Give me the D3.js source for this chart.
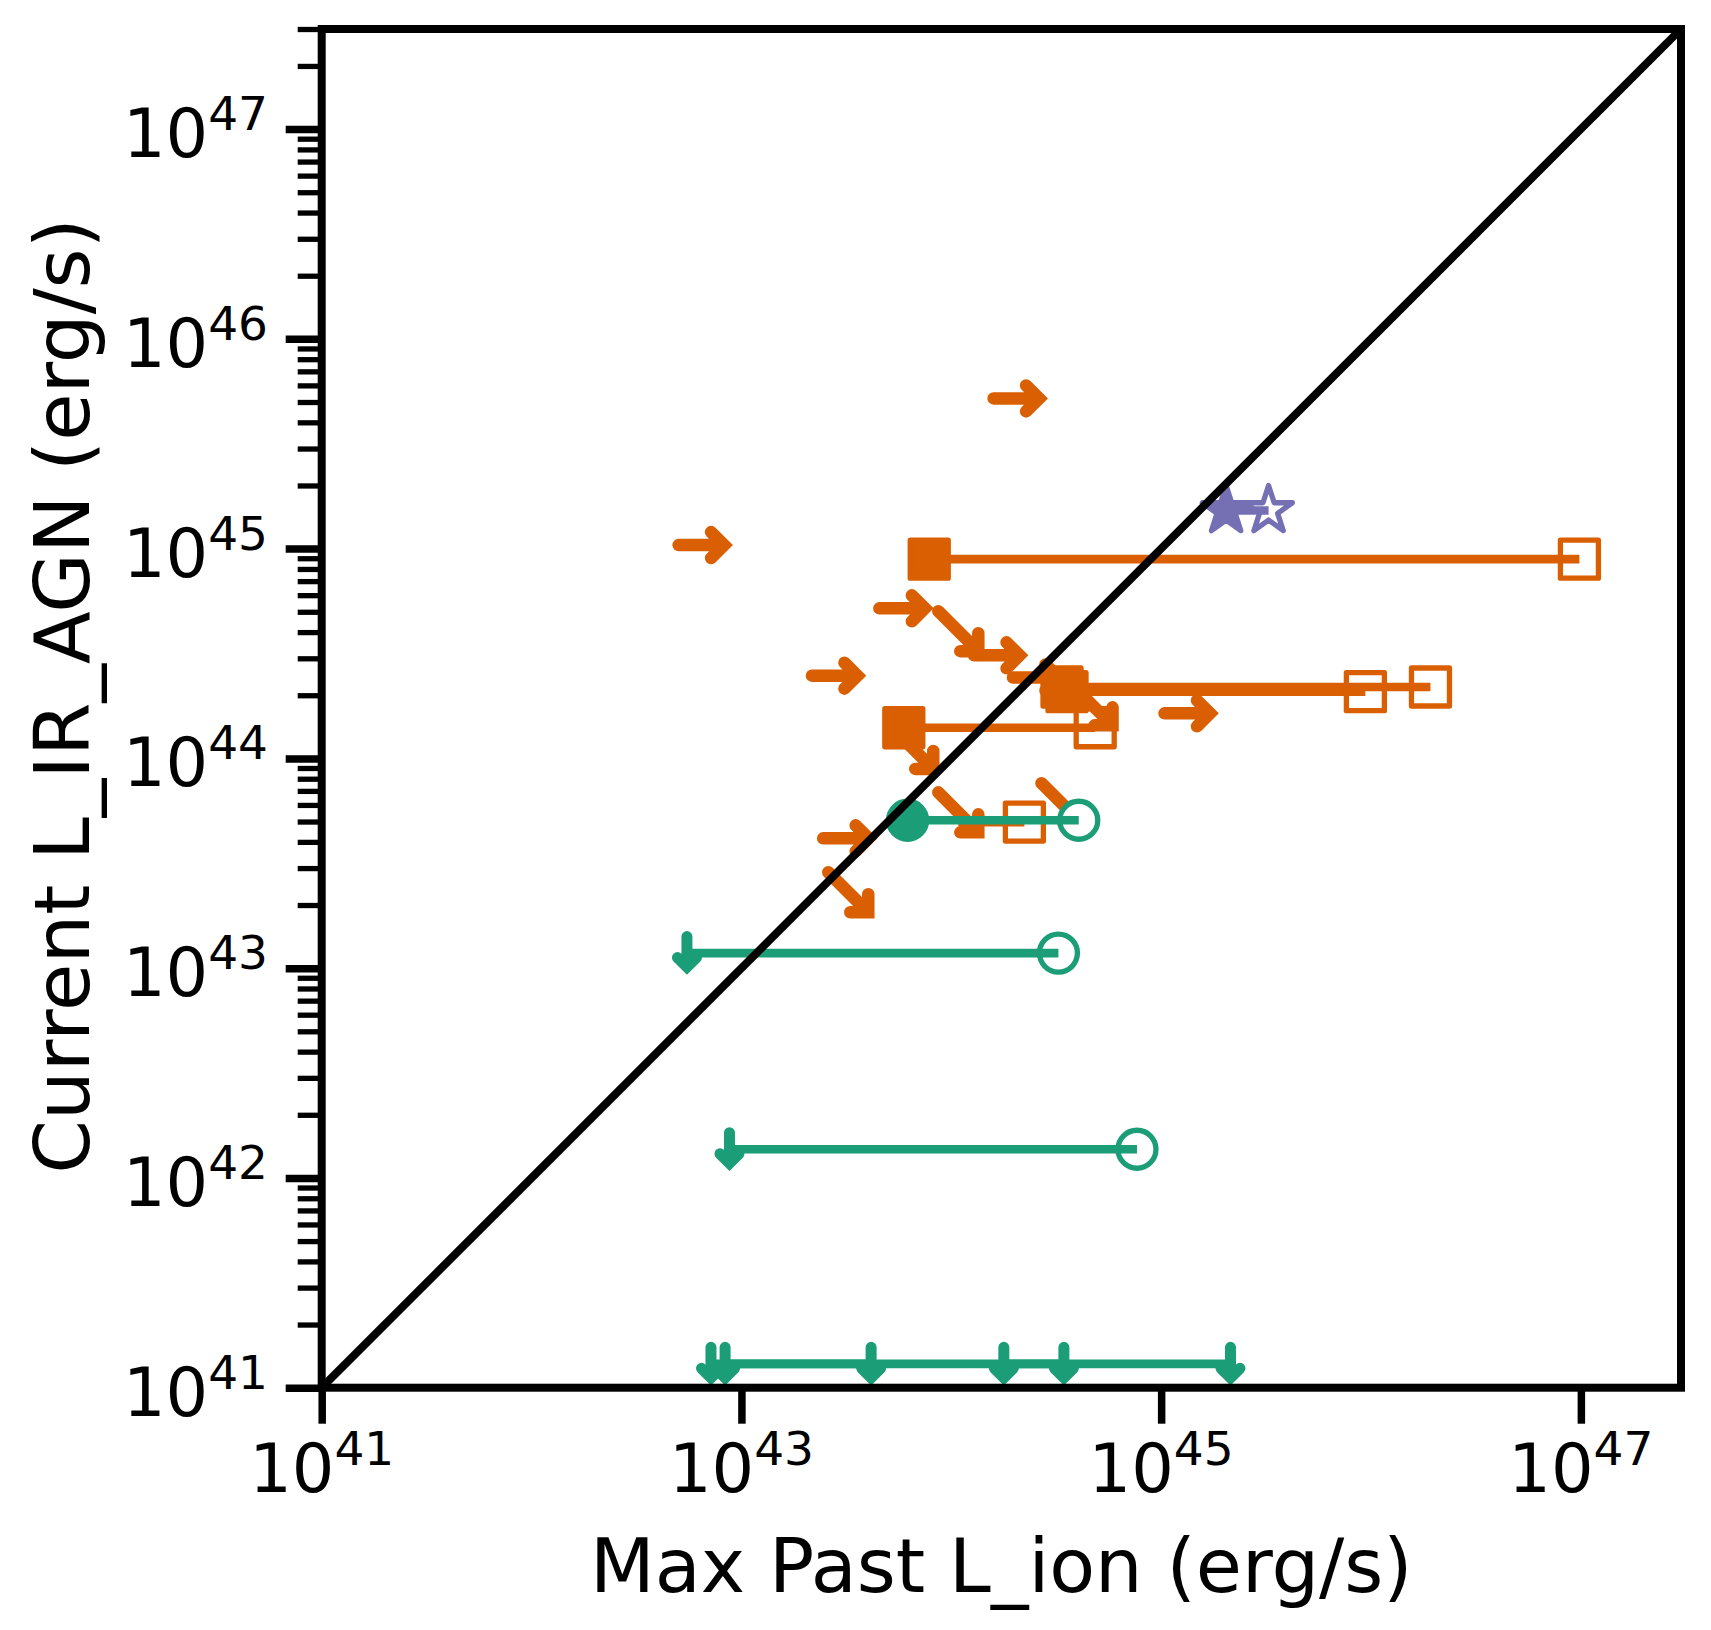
<!DOCTYPE html>
<html>
<head>
<meta charset="utf-8">
<script src="https://cdn.jsdelivr.net/npm/d3@7"></script>
<style>
  body { margin: 0; background: #ffffff; }
  text { font-family: "DejaVu Sans", sans-serif; fill: #000; }
</style>
</head>
<body>
<svg id="chart" width="1711" height="1630"></svg>
<script>
// ---------------- DATA ----------------
// Orange: filled square (current) joined to open square (max past)
const orangeCurrentX    = [7.85e43, 3.37e44, 3.56e44, 5.94e43, 1.08e44];
const orangePastX       = [9.84e46, 1.92e46, 9.4e45, 4.85e44, 2.23e44];
const orangeY           = [8.91e44, 2.19e44, 2.08e44, 1.40e44, 4.97e43];
const orangeCurrentKind = ["square", "square", "square", "square", "none"];

// Orange lower limits in x (right arrows)
const rightArrowX = [2.07e44, 6.53e42, 5.91e43, 1.67e44, 2.82e43, 2.56e44, 1.35e45, 3.19e43];
const rightArrowY = [5.2e45, 1.04e45, 5.19e44, 3.10e44, 2.48e44, 2.43e44, 1.64e44, 4.16e43];

// Orange lower limit in x + upper limit in y (down-right arrows)
const downRightX = [1.08e44, 6.59e43, 1.08e44, 4.71e44, 3.23e43, 3.35e44];
const downRightY = [4.04e44, 1.11e44, 5.53e43, 1.79e44, 2.30e43, 6.12e43];

// Purple stars: filled (current) -> open (max past)
const starCurrentX = [2.04e45];
const starPastX    = [3.25e45];
const starY        = [1.52e45];

// Green: current (filled circle or upper-limit arrow) -> max past (open circle or arrow)
const greenCurrentX    = [6.19e43, 5.5e42, 8.77e42, 7.16e42, 8.36e42, 1.78e44];
const greenPastX       = [4.05e44, 3.24e44, 7.67e44, 2.14e45, 4.15e43, 3.44e44];
const greenY           = [5.07e43, 1.18e43, 1.37e42, 1.3e41, 1.3e41, 1.3e41];
const greenCurrentKind = ["circle", "limit", "limit", "limit", "limit", "limit"];
const greenPastKind    = ["circle", "circle", "circle", "limit", "limit", "limit"];

// Axis ticks
const xTickExponents = [41, 43, 45, 47];
const yTickExponents = [41, 42, 43, 44, 45, 46, 47];
const axisDomain = [1e41, 3e47];

// ---------------- SETUP ----------------
const ORANGE = "#d95f02", GREEN = "#1b9e77", PURPLE = "#7570b3";
const svg = d3.select("#chart");
svg.append("rect").attr("width", 1711).attr("height", 1630).attr("fill", "#fff");

const L = 321.7, R = 1681, T = 29, B = 1387.7;
const x = d3.scaleLog().domain(axisDomain).range([L, R]);
const y = d3.scaleLog().domain(axisDomain).range([B, T]);

const plotG = svg.append("g");

// marker helpers
function sqMarker(g, cx, cy, filled, color) {
  const s = 38;
  g.append("rect")
    .attr("x", x(cx) - s / 2).attr("y", y(cy) - s / 2)
    .attr("width", s).attr("height", s)
    .attr("fill", filled ? color : "none")
    .attr("stroke", color).attr("stroke-width", 5.3)
    .attr("stroke-linejoin", "round");
}
function starPath(Rad) {
  const r = Rad * 0.381966;
  const pts = [];
  for (let i = 0; i < 10; i++) {
    const a = -Math.PI / 2 + i * Math.PI / 5;
    const rr = i % 2 ? r : Rad;
    pts.push([rr * Math.cos(a), rr * Math.sin(a)]);
  }
  return "M" + pts.map(p => p[0].toFixed(2) + "," + p[1].toFixed(2)).join("L") + "Z";
}
function glyph(g, cx, cy, d, color, sw) {
  g.append("path")
    .attr("transform", `translate(${x(cx)},${y(cy)})`)
    .attr("d", d)
    .attr("fill", "none").attr("stroke", color).attr("stroke-width", sw)
    .attr("stroke-linecap", "round").attr("stroke-linejoin", "miter")
    .attr("stroke-miterlimit", 4);
}
const RIGHT_ARROW = "M-24,0L21.5,0M8.5,-13L21.5,0L8.5,13";
const DOWNRIGHT_ARROW = "M-20,-20L20,20M20,2L20,20L2,20";
const DOWN_ARROW = "M0,-16.5L0,14M-9.5,4.5L0,14L9.5,4.5";

// ---- Orange ----
const og = plotG.append("g");
orangeY.forEach((yy, i) => {
  og.append("line")
    .attr("x1", x(orangeCurrentX[i])).attr("x2", x(orangePastX[i]))
    .attr("y1", y(yy)).attr("y2", y(yy))
    .attr("stroke", ORANGE).attr("stroke-width", 8.7);
});
orangeY.forEach((yy, i) => sqMarker(og, orangePastX[i], yy, false, ORANGE));
orangeY.forEach((yy, i) => {
  if (orangeCurrentKind[i] === "square") sqMarker(og, orangeCurrentX[i], yy, true, ORANGE);
});
rightArrowX.forEach((xx, i) => glyph(og, xx, rightArrowY[i], RIGHT_ARROW, ORANGE, 12.5));
downRightX.forEach((xx, i) => glyph(og, xx, downRightY[i], DOWNRIGHT_ARROW, ORANGE, 12.5));

// ---- Purple stars ----
const pg = plotG.append("g");
starY.forEach((yy, i) => {
  pg.append("line")
    .attr("x1", x(starCurrentX[i])).attr("x2", x(starPastX[i]))
    .attr("y1", y(yy)).attr("y2", y(yy))
    .attr("stroke", PURPLE).attr("stroke-width", 8.7);
  pg.append("path").attr("transform", `translate(${x(starPastX[i])},${y(yy)})`)
    .attr("d", starPath(25)).attr("fill", "none")
    .attr("stroke", PURPLE).attr("stroke-width", 5.3).attr("stroke-linejoin", "round");
  pg.append("path").attr("transform", `translate(${x(starCurrentX[i])},${y(yy)})`)
    .attr("d", starPath(25)).attr("fill", PURPLE)
    .attr("stroke", PURPLE).attr("stroke-width", 5.3).attr("stroke-linejoin", "round");
});

// ---- Green ----
const gg = plotG.append("g");
greenY.forEach((yy, i) => {
  if (greenPastKind[i] === "circle") {
    gg.append("circle").attr("cx", x(greenPastX[i])).attr("cy", y(yy)).attr("r", 19)
      .attr("fill", "#fff").attr("stroke", GREEN).attr("stroke-width", 5.3);
  }
});
greenY.forEach((yy, i) => {
  gg.append("line")
    .attr("x1", x(greenCurrentX[i])).attr("x2", x(greenPastX[i]))
    .attr("y1", y(yy)).attr("y2", y(yy))
    .attr("stroke", GREEN).attr("stroke-width", 8.7);
});
greenY.forEach((yy, i) => {
  if (greenCurrentKind[i] === "circle") {
    gg.append("circle").attr("cx", x(greenCurrentX[i])).attr("cy", y(yy)).attr("r", 19)
      .attr("fill", GREEN).attr("stroke", GREEN).attr("stroke-width", 5.3);
  } else {
    glyph(gg, greenCurrentX[i], yy, DOWN_ARROW, GREEN, 11);
  }
  if (greenPastKind[i] === "limit") glyph(gg, greenPastX[i], yy, DOWN_ARROW, GREEN, 11);
});

// ---- one-to-one line ----
plotG.append("line")
  .attr("x1", x(axisDomain[0])).attr("y1", y(axisDomain[0]))
  .attr("x2", x(axisDomain[1])).attr("y2", y(axisDomain[1]))
  .attr("stroke", "#000").attr("stroke-width", 8);

// ---------------- AXES ----------------
const xMajor = xTickExponents.map(e => Math.pow(10, e));
const yMajor = yTickExponents.map(e => Math.pow(10, e));
const yMinor = [];
for (let e = 41; e <= 47; e++) for (let k = 2; k <= 9; k++) {
  const v = k * Math.pow(10, e);
  if (v <= axisDomain[1] * 1.0001) yMinor.push(v);
}

const xAxis = svg.append("g").attr("transform", `translate(0,${B})`)
  .call(d3.axisBottom(x).tickValues(xMajor).tickSize(36).tickFormat(() => ""));
const yAxisMinor = svg.append("g").attr("transform", `translate(${L},0)`)
  .call(d3.axisLeft(y).tickValues(yMinor).tickSize(24).tickFormat(() => ""));
const yAxis = svg.append("g").attr("transform", `translate(${L},0)`)
  .call(d3.axisLeft(y).tickValues(yMajor).tickSize(36).tickFormat(() => ""));
[xAxis, yAxis, yAxisMinor].forEach(a => a.select(".domain").remove());
xAxis.selectAll(".tick line").attr("stroke", "#000").attr("stroke-width", 7.5);
yAxis.selectAll(".tick line").attr("stroke", "#000").attr("stroke-width", 7.5);
yAxisMinor.selectAll(".tick line").attr("stroke", "#000").attr("stroke-width", 5.3);

// spines
svg.append("rect").attr("x", L).attr("y", T).attr("width", R - L).attr("height", B - T)
  .attr("fill", "none").attr("stroke", "#000").attr("stroke-width", 8)
  .attr("stroke-linejoin", "miter");

// tick labels
xTickExponents.forEach(e => {
  const t = svg.append("text").attr("x", x(Math.pow(10, e))).attr("y", 1492)
    .attr("text-anchor", "middle").style("font-size", "67px");
  t.append("tspan").text("10");
  t.append("tspan").attr("dy", -27).style("font-size", "47px").text(String(e));
});
yTickExponents.forEach(e => {
  const t = svg.append("text").attr("x", 268).attr("y", y(Math.pow(10, e)) + 28)
    .attr("text-anchor", "end").style("font-size", "67px");
  t.append("tspan").text("10");
  t.append("tspan").attr("dy", -27).style("font-size", "47px").text(String(e));
});

// axis labels
svg.append("text").attr("x", (L + R) / 2).attr("y", 1592)
  .attr("text-anchor", "middle").style("font-size", "75px")
  .text("Max Past L_ion (erg/s)");
svg.append("text").attr("transform", `translate(89,696) rotate(-90)`)
  .attr("text-anchor", "middle").style("font-size", "77px")
  .text("Current L_IR_AGN (erg/s)");
</script>
</body>
</html>
